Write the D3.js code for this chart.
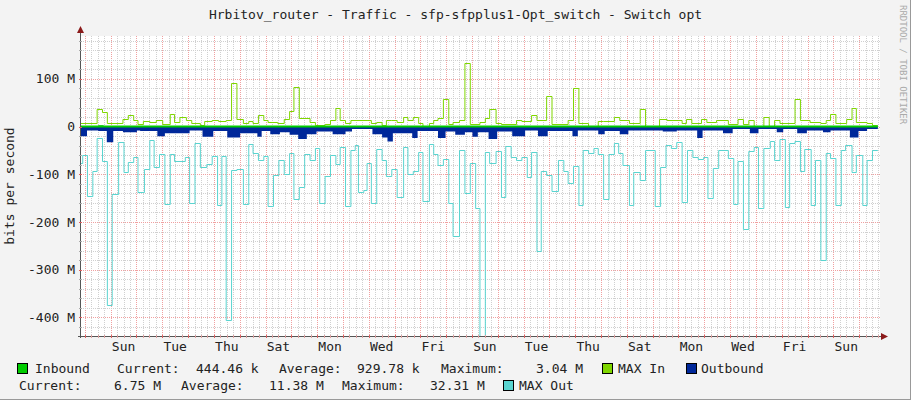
<!DOCTYPE html>
<html>
<head>
<meta charset="utf-8">
<script src="https://cdn.jsdelivr.net/npm/d3@7"></script>
<style>
  body { margin: 0; background: #f3f3f3; }
  svg text { font-family: "DejaVu Sans Mono", monospace; }
</style>
</head>
<body>
<svg id="chart" width="911" height="400"></svg>
<script>
// time in hours from the left edge, values in Mbit/s (negative = outbound)
const maxOutT = [0,1.6,6,11,15,20,24.5,29,35,40,44,49,53,59,64,68,73,78,83,87,97,101,106,111,117,122,127,131,135,140,145,151,156,160,165,170,174,179,184,189,194,198,203,208,213,218,222,227,232,237,241,246,251,255,258,263,266,270,275,280,284,289,294,300,304,309,314,318,324,328,332,337,342,346,352,357,362,367,371,376,380,386,391,395,400,405,410,415,419,424,428,433,438,444,449,453,458,463,467,472,477,481,486,491,496,500,504,510,514,520,525,534,539,544,549,554,559,564,569,574,579,583,588,593,602,607,611,616,621,626,630,635,641,645,650,655,659,664,669,673,679,683,688,693,697,702,707,711,717,721,727,731,736]
const maxOutV = [-76,-59,-146,-94,-24,-73,-373,-141,-33,-95,-74,-64,-138,-89,-29,-85,-58,-163,-58,-73,-64,-160,-35,-85,-78,-61,-165,-62,-405,-90,-89,-163,-37,-56,-71,-62,-167,-102,-71,-99,-55,-151,-126,-58,-70,-44,-160,-103,-60,-78,-42,-167,-50,-38,-137,-133,-77,-160,-47,-69,-103,-88,-147,-42,-100,-93,-53,-155,-37,-57,-80,-67,-160,-230,-48,-140,-76,-170,-460,-54,-77,-52,-148,-41,-63,-70,-63,-105,-53,-260,-93,-101,-136,-71,-93,-118,-83,-164,-49,-56,-45,-57,-152,-57,-34,-56,-81,-165,-96,-112,-49,-166,-84,-39,-45,-32,-157,-50,-63,-68,-63,-150,-86,-49,-66,-162,-73,-214,-52,-43,-171,-45,-31,-70,-27,-169,-35,-30,-93,-47,-165,-70,-279,-56,-66,-165,-50,-38,-96,-60,-165,-70,-50]

const maxInT = [0,15,20,24.5,39,44,49,53,58,64,70,76,83,87,92,98,103,111,115,122,128,135,140,145,151,156,160,165,170,174,183,189,194,198,203,213,218,227,232,237,241,246,251,266,270,275,280,284,289,294,300,304,309,314,318,324,328,332,337,342,346,352,357,362,371,376,380,386,391,405,410,419,424,433,438,453,458,463,472,481,486,496,501,510,520,525,538,545,559,563,568,577,582,591,602,611,616,621,626,635,640,645,650,664,669,678,688,693,697,702,712,717,721,731,736]
const maxInV = [8,36,31,8,17,24,14,6,11,10,13,6,26,10,20,14,7,3,12,14,11,13,91,17,8,12,7,24,14,10,8,17,33,84,19,10,3,6,14,38,14,8,14,13,7,10,3,13,14,10,20,14,20,7,1,7,14,18,57,5,10,13,133,5,10,18,36,7,6,14,11,25,13,65,6,14,82,7,1,12,11,20,14,7,36,1,17,14,7,15,7,15,10,14,6,15,6,13,1,21,1,14,7,57,13,10,7,14,26,7,17,38,10,7,3]

const outT = [0,5.6,16,24,30,39,52,55,71,78,101,113,123,136,148,164,168,176,185,194,202,210,219,234,246,252,271,280,285,290,308,313,332,339,348,357,364,369,379,387,401,413,425,434,457,462,481,487,501,509,541,554,573,578,597,606,622,630,647,653,666,675,690,697,715,723,731]
const outV = [-20,-8,-9,-33,-9,-12,-8,-9,-20,-14,-8,-21,-9,-23,-14,-21,-9,-16,-12,-17,-26,-16,-10,-16,-10,-5,-16,-23,-31,-14,-24,-9,-24,-10,-17,-12,-21,-12,-26,-10,-20,-8,-20,-9,-20,-8,-16,-9,-16,-8,-10,-8,-24,-8,-14,-5,-14,-5,-12,-5,-14,-8,-12,-8,-23,-9,-5]

const inT = [0,16,21,150,300,500,650]
const inV = [1.0,3.0,1.0,0.8,1.0,0.7,0.9]

const endT = 741
const dayNames = ["Sun","Tue","Thu","Sat","Mon","Wed","Fri","Sun","Tue","Thu","Sat","Mon","Wed","Fri","Sun"]
const firstMidnight = 3.6
const yTicks = [100, 0, -100, -200, -300, -400]

const legend1 = [
  { sw: "#00cc00", x: 17 }, { t: "Inbound", x: 35 }, { t: "Current:", x: 117 }, { t: "444.46 k", x: 196 },
  { t: "Average:", x: 279 }, { t: "929.78 k", x: 357 }, { t: "Maximum:", x: 441 }, { t: "3.04 M", x: 536 },
  { sw: "#7fd600", x: 602 }, { t: "MAX In", x: 618 }, { sw: "#00289a", x: 686 }, { t: "Outbound", x: 701 }
]
const legend2 = [
  { t: "Current:", x: 19 }, { t: "6.75 M", x: 114 }, { t: "Average:", x: 181 }, { t: "11.38 M", x: 269 },
  { t: "Maximum:", x: 342 }, { t: "32.31 M", x: 430 }, { sw: "#5ad4d0", x: 503 }, { t: "MAX Out", x: 519 }
]

const svg = d3.select("#chart")
const pLeft = 81, pRight = 880, pTop = 36, pBottom = 336

const x = d3.scaleLinear().domain([0, 743]).range([pLeft, pRight])
const y = d3.scaleLinear().domain([-439, 190]).range([pBottom, pTop])

// frame
svg.append("rect").attr("width", 911).attr("height", 400).attr("fill", "#f3f3f3")
svg.append("line").attr("x1", 910.5).attr("x2", 910.5).attr("y1", 0).attr("y2", 400).attr("stroke", "#999")
svg.append("line").attr("x1", 0).attr("x2", 911).attr("y1", 399.5).attr("y2", 399.5).attr("stroke", "#999")
svg.append("rect").attr("x", pLeft).attr("y", pTop).attr("width", pRight - pLeft).attr("height", pBottom - pTop).attr("fill", "#fff")

// grid: 6h minor / midnight major, 20M minor / 100M major
const sixHours = d3.range(0, Math.floor((743 - firstMidnight) / 6) + 1).map(i => ({ h: firstMidnight + 6 * i, major: i % 4 === 0 }))
const grid = svg.append("g").attr("shape-rendering", "crispEdges")
grid.selectAll(".mv").data(sixHours).join("line")
  .attr("x1", d => Math.round(x(d.h)) + 0.5).attr("x2", d => Math.round(x(d.h)) + 0.5)
  .attr("y1", pTop).attr("y2", pBottom)
  .attr("stroke", d => d.major ? "#f0a0a0" : "#d0d0d0")
  .attr("stroke-dasharray", "1,1")
grid.selectAll(".mh").data(d3.range(-420, 190, 20)).join("line")
  .attr("x1", pLeft).attr("x2", pRight)
  .attr("y1", d => Math.round(y(d)) + 0.5).attr("y2", d => Math.round(y(d)) + 0.5)
  .attr("stroke", d => d % 100 === 0 ? "#f0a0a0" : "#d0d0d0")
  .attr("stroke-dasharray", "1,1")

svg.append("clipPath").attr("id", "clip").append("rect")
  .attr("x", pLeft).attr("y", pTop).attr("width", pRight - pLeft).attr("height", pBottom - pTop)
const plot = svg.append("g").attr("clip-path", "url(#clip)")

const pts = (T, V) => T.map((t, i) => [t, V[i]]).concat([[endT, V[V.length - 1]]])

const area = d3.area().curve(d3.curveStepAfter).x(d => x(d[0])).y0(y(0)).y1(d => y(d[1]))
const line = d3.line().curve(d3.curveStepAfter).x(d => x(d[0])).y(d => Math.round(y(d[1])) + 0.5)

plot.append("path").attr("d", area(pts(outT, outV))).attr("fill", "#00289a")
plot.append("path").attr("d", line(pts(maxOutT, maxOutV))).attr("fill", "none").attr("stroke", "#5ad4d0").attr("stroke-width", 1)
plot.append("path").attr("d", area(pts(inT, inV))).attr("fill", "#00cc00")
plot.append("path").attr("d", line(pts(maxInT, maxInV))).attr("fill", "none").attr("stroke", "#7fd600").attr("stroke-width", 1)
plot.append("line").attr("x1", pLeft).attr("x2", x(endT)).attr("y1", y(0)).attr("y2", y(0))
  .attr("stroke", "#00cc00").attr("stroke-width", 2)

// axes
const ax = svg.append("g").attr("shape-rendering", "crispEdges")
ax.append("line").attr("x1", pLeft - 0.5).attr("x2", pLeft - 0.5).attr("y1", pTop - 6).attr("y2", pBottom + 2).attr("stroke", "#555")
ax.append("line").attr("x1", pLeft - 3).attr("x2", pRight + 2).attr("y1", pBottom + 0.5).attr("y2", pBottom + 0.5).attr("stroke", "#555")
ax.selectAll(".xt").data(sixHours).join("line")
  .attr("x1", d => Math.round(x(d.h)) + 0.5).attr("x2", d => Math.round(x(d.h)) + 0.5)
  .attr("y1", pBottom - 1).attr("y2", pBottom + 2)
  .attr("stroke", d => d.major ? "#e06060" : "#e0a0a0")
ax.selectAll(".yt").data(d3.range(-420, 190, 20)).join("line")
  .attr("x1", pLeft - 2).attr("x2", pLeft + 1)
  .attr("y1", d => Math.round(y(d)) + 0.5).attr("y2", d => Math.round(y(d)) + 0.5)
  .attr("stroke", d => d % 100 === 0 ? "#e06060" : "#aaa")
svg.append("path").attr("d", `M${pLeft - 4},${pTop - 3} L${pLeft + 3},${pTop - 3} L${pLeft - 0.5},${pTop - 10} Z`).attr("fill", "#8b1a1a")
svg.append("path").attr("d", `M${pRight + 1},${pBottom - 3} L${pRight + 1},${pBottom + 4} L${pRight + 8},${pBottom + 0.5} Z`).attr("fill", "#8b1a1a")

const txt = "#222"
svg.append("g").selectAll("text").data(yTicks).join("text")
  .attr("x", 75).attr("y", d => y(d) + 4.5).attr("text-anchor", "end")
  .attr("font-size", 13).attr("fill", txt)
  .text(d => d === 0 ? "0" : `${d} M`)

svg.append("g").selectAll("text").data(dayNames).join("text")
  .attr("x", (d, i) => x(firstMidnight + 24 * (1 + 2 * i) + 12)).attr("y", 351)
  .attr("text-anchor", "middle").attr("font-size", 13).attr("fill", txt)
  .text(d => d)

svg.append("text").attr("transform", "translate(14,186) rotate(-90)")
  .attr("text-anchor", "middle").attr("font-size", 13).attr("fill", txt).text("bits per second")

svg.append("text").attr("x", 455.5).attr("y", 19).attr("text-anchor", "middle")
  .attr("font-size", 13).attr("fill", txt)
  .text("Hrbitov_router - Traffic - sfp-sfpplus1-Opt_switch - Switch opt")

svg.append("text").attr("transform", "translate(900,5) rotate(90)")
  .attr("font-size", 9).attr("fill", "#aaa").text("RRDTOOL / TOBI OETIKER")

const drawLegend = (items, yy) => {
  items.forEach(it => {
    if (it.sw) {
      svg.append("rect").attr("x", it.x + 0.5).attr("y", yy - 9.5).attr("width", 10).attr("height", 10)
        .attr("fill", it.sw).attr("stroke", "#000")
    } else {
      svg.append("text").attr("x", it.x).attr("y", yy).attr("font-size", 13).attr("fill", txt).text(it.t)
    }
  })
}
drawLegend(legend1, 373)
drawLegend(legend2, 390)
</script>
</body>
</html>
